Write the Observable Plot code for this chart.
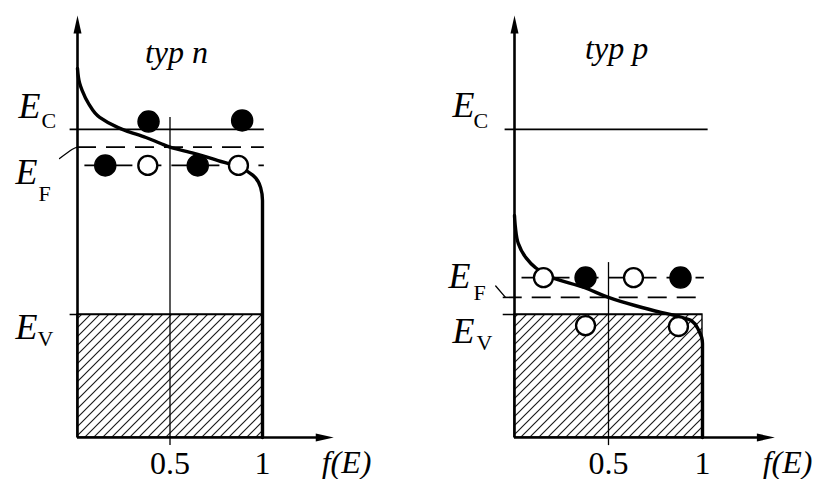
<!DOCTYPE html>
<html>
<head>
<meta charset="utf-8">
<script src="https://cdn.jsdelivr.net/npm/d3@7"></script>
<script src="https://cdn.jsdelivr.net/npm/@observablehq/plot@0.6"></script>
<style>
html, body { margin: 0; padding: 0; background: #fff; }
#row { display: flex; width: 819px; height: 479px; overflow: hidden; }
#row svg { display: block; background: #fff; }
</style>
</head>
<body>
<div id="row"></div>
<script>
// ---------- data (energy in arbitrary units, f(E) occupation 0..1) ----------
const panelTitles = ["typ n", "typ p"];
const fTicks = [0.5, 1];
const levelNames = ["Ec", "EF", "Edot", "Ev"];          // conduction edge, Fermi level, donor/acceptor level, valence edge
const nLevels = [10.27, 9.68, 9.07, 4.1];
const pLevels = [10.27, 4.67, 5.33, 4.1];
// Fermi–Dirac curve (bottom to top)
const nCurveE = [0, 7.9, 8.33, 8.73, 9.0, 9.23, 9.47, 9.68, 9.8, 10.0, 10.23, 10.33, 10.67, 11.13, 11.57, 11.8, 12.3];
const nCurveF = [1, 1, 0.99, 0.95, 0.88, 0.76, 0.63, 0.5, 0.45, 0.37, 0.26, 0.22, 0.12, 0.06, 0.025, 0.012, 0];
const pCurveE = [0, 3.13, 3.57, 3.9, 4.07, 4.17, 4.4, 4.67, 5.0, 5.33, 5.67, 6.0, 6.47, 7.0, 7.4];
const pCurveF = [1, 1, 0.98, 0.94, 0.85, 0.78, 0.64, 0.5, 0.37, 0.2, 0.11, 0.06, 0.02, 0.005, 0];
// electrons (filled) and holes / empty states (open)
const nDotsF = [0.384, 0.89, 0.15, 0.38, 0.65, 0.87];
const nDotsE = [10.53, 10.57, 9.07, 9.07, 9.07, 9.07];
const nDotsFilled = [1, 1, 1, 0, 1, 0];
const pDotsF = [0.154, 0.378, 0.633, 0.883, 0.378, 0.872];
const pDotsE = [5.33, 5.33, 5.33, 5.33, 3.73, 3.7];
const pDotsFilled = [0, 1, 0, 1, 0, 0];

// ---------- drawing ----------
const SERIF = "Liberation Serif, Times New Roman, serif";
const arrowHead = {
  draw(ctx) { ctx.moveTo(0, 0); ctx.lineTo(4, 18); ctx.lineTo(-4, 18); ctx.closePath(); }
};

function panel(cfg) {
  const [Ec, EF, Ed, Ev] = cfg.levels;
  const curve = cfg.curveE.map((e, i) => ({E: e, f: cfg.curveF[i]}));
  const dots = cfg.dotsF.map((f, i) => ({f, E: cfg.dotsE[i], filled: cfg.dotsFilled[i]}));
  const L = cfg.lab;
  const txt = (s, y, o, size, style) => Plot.text([s], {
    x: 0, y, dx: o[0], dy: o[1], text: d => d, textAnchor: "start", lineAnchor: "bottom",
    fontSize: size, fontStyle: style, fontFamily: SERIF, fill: "black"
  });
  const svg = Plot.plot({
    width: cfg.width, height: 479,
    style: {background: "white", overflow: "visible"},
    x: {domain: [0, 1], range: cfg.xRange, axis: null},
    y: {domain: [0, 14], range: [437, 17], axis: null},
    marks: [
      // hatched valence band
      Plot.rect([Ev], {x1: 0, x2: 1, y1: 0, y2: d => d, fill: `url(#${cfg.hatch})`, stroke: "black", strokeWidth: 1.4}),
      // energy levels
      Plot.ruleY([Ec], {x1: cfg.ecExt[0], x2: cfg.ecExt[1], stroke: "black", strokeWidth: 1.6}),
      Plot.ruleY([Ev], {x1: cfg.evExt[0], x2: cfg.evExt[1], stroke: "black", strokeWidth: 1.6}),
      Plot.ruleY([EF], {x1: cfg.efExt[0], x2: cfg.efExt[1], stroke: "black", strokeWidth: 1.6, strokeDasharray: "19,10"}),
      Plot.ruleY([Ed], {x1: cfg.edExt[0], x2: cfg.edExt[1], stroke: "black", strokeWidth: 1.6, strokeDasharray: "19,10"}),
      // f = 0.5 guide
      Plot.ruleX([0.5], {y1: -0.27, y2: cfg.halfTop, stroke: "black", strokeWidth: 1.3}),
      // axes with arrows
      Plot.ruleX([0], {y1: 0, y2: 13.5, stroke: "black", strokeWidth: 2.6}),
      Plot.ruleY([0], {x1: 0, x2: 1.3, stroke: "black", strokeWidth: 2.6}),
      Plot.dot([0], {x: 0, y: 14.07, symbol: arrowHead, fill: "black", stroke: null}),
      Plot.dot([0], {x: 1.385, y: 0, symbol: arrowHead, fill: "black", stroke: null, rotate: 90}),
      // Fermi-Dirac curve
      Plot.line(curve, {x: "f", y: "E", curve: "monotone-y", stroke: "black", strokeWidth: 3.4}),
      // leader from E_F label
      Plot.line(cfg.leader, {x: d => d[0], y: d => d[1], curve: "natural", stroke: "black", strokeWidth: 1.3}),
      // carriers: electrons (filled) and empty states / holes (open)
      Plot.dot(dots.filter(d => d.filled), {x: "f", y: "E", r: 10.5, fill: "black", stroke: "black", strokeWidth: 1.5}),
      Plot.dot(dots.filter(d => !d.filled), {x: "f", y: "E", r: 9.5, fill: "white", stroke: "black", strokeWidth: 2.3}),
      // labels
      txt("E", Ec, L.ec[0], 36, "italic"), txt("C", Ec, L.ec[1], 22, "normal"),
      txt("E", EF, L.ef[0], 36, "italic"), txt("F", EF, L.ef[1], 22, "normal"),
      txt("E", Ev, L.ev[0], 36, "italic"), txt("V", Ev, L.ev[1], 22, "normal"),
      Plot.text([cfg.title], {x: cfg.titlePos[0], y: cfg.titlePos[1], text: d => d, textAnchor: "middle",
        lineAnchor: "bottom", fontSize: 32, fontStyle: "italic", fontFamily: SERIF, fill: "black"}),
      Plot.text(fTicks, {x: d => d, y: 0, dy: 36, text: d => String(d), textAnchor: "middle",
        lineAnchor: "bottom", fontSize: 32, fontFamily: SERIF, fill: "black"}),
      Plot.text(["f(E)"], {x: 1.32, y: 0, dy: 35, text: d => d, textAnchor: "start",
        lineAnchor: "bottom", fontSize: 32, fontStyle: "italic", fontFamily: SERIF, fill: "black"})
    ]
  });
  d3.select(svg).insert("defs", ":first-child").html(
    `<pattern id="${cfg.hatch}" patternUnits="userSpaceOnUse" width="9" height="9">
       <path d="M-2.25,2.25L2.25,-2.25M0,9L9,0M6.75,11.25L11.25,6.75" stroke="#1a1a1a" stroke-width="1.15"/>
     </pattern>`);
  return svg;
}

const row = document.getElementById("row");
row.appendChild(panel({
  title: panelTitles[0], width: 409, xRange: [77, 262], hatch: "hatchN",
  levels: nLevels, curveE: nCurveE, curveF: nCurveF,
  dotsF: nDotsF, dotsE: nDotsE, dotsFilled: nDotsFilled,
  ecExt: [-0.04, 1.01], evExt: [-0.04, 1], efExt: [0, 1.01], edExt: [0.04, 1.01],
  halfTop: 10.67, titlePos: [0.535, 12.5],
  leader: [[-0.097, 9.3], [-0.03, 9.6], [0, 9.68]],
  lab: {ec: [[-59, -11], [-36, -1]], ef: [[-62, 37], [-39, 54]], ev: [[-62, 24], [-40, 31]]}
}));
row.appendChild(panel({
  title: panelTitles[1], width: 410, xRange: [105, 293], hatch: "hatchP",
  levels: pLevels, curveE: pCurveE, curveF: pCurveF,
  dotsF: pDotsF, dotsE: pDotsE, dotsFilled: pDotsFilled,
  ecExt: [-0.05, 1.03], evExt: [-0.06, 1], efExt: [-0.06, 1.01], edExt: [0.04, 1.01],
  halfTop: 5.83, titlePos: [0.543, 12.63],
  leader: [[-0.1, 5.05], [-0.048, 4.67]],
  lab: {ec: [[-62, -12], [-41, -1]], ef: [[-66, -9], [-41, 3]], ev: [[-62, 28], [-38, 35]]}
}));
</script>
</body>
</html>
